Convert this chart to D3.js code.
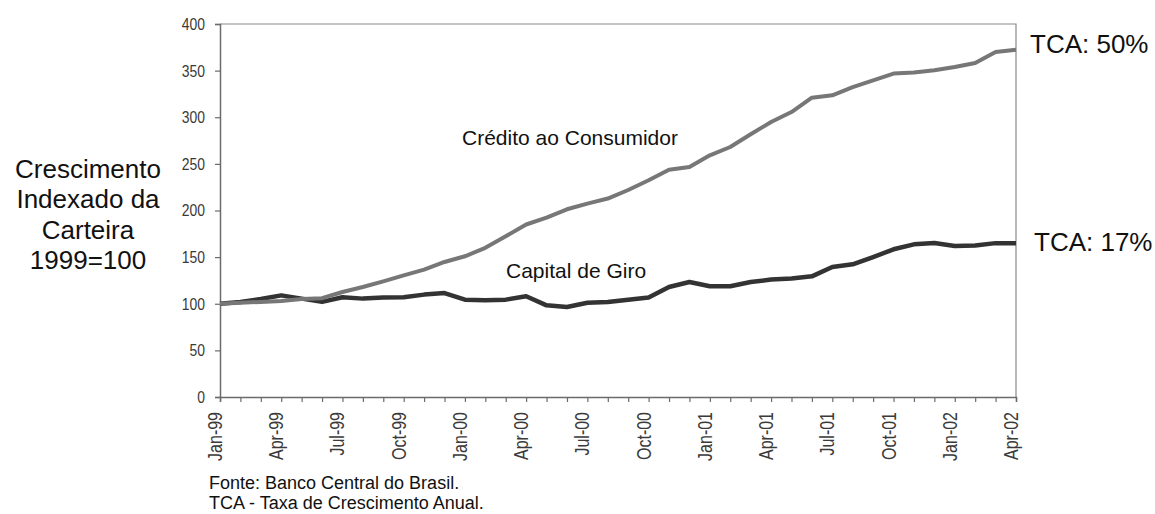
<!DOCTYPE html>
<html lang="pt">
<head>
<meta charset="UTF-8">
<title>Crescimento Indexado da Carteira</title>
<script src="https://d3js.org/d3.v7.min.js"></script>
<style>
  body { margin: 0; background: #fff; }
  svg { display: block; font-family: "Liberation Sans", Arial, sans-serif; }
  .tick-lbl { font-family: "Liberation Sans", Arial, sans-serif; fill: #3a3a3a; }
</style>
</head>
<body>
<svg id="chart" width="1155" height="514"></svg>
<script>
// months on the category axis (Jan-99 .. Apr-02)
const months = [
  "Jan-99","Feb-99","Mar-99","Apr-99","May-99","Jun-99","Jul-99","Aug-99","Sep-99","Oct-99","Nov-99","Dec-99",
  "Jan-00","Feb-00","Mar-00","Apr-00","May-00","Jun-00","Jul-00","Aug-00","Sep-00","Oct-00","Nov-00","Dec-00",
  "Jan-01","Feb-01","Mar-01","Apr-01","May-01","Jun-01","Jul-01","Aug-01","Sep-01","Oct-01","Nov-01","Dec-01",
  "Jan-02","Feb-02","Mar-02","Apr-02"
];
const tickLabels = ["Jan-99","Apr-99","Jul-99","Oct-99","Jan-00","Apr-00","Jul-00","Oct-00",
                    "Jan-01","Apr-01","Jul-01","Oct-01","Jan-02","Apr-02"];
const yTicks = [0, 50, 100, 150, 200, 250, 300, 350, 400];

// Crédito ao Consumidor
const credito = [100, 101, 102, 103, 105, 106, 112.6, 118, 124, 130.5, 136.6, 144.8, 150.9, 160, 172.3, 185, 192.4, 201.3, 207.4,
                 212.8, 222, 232.4, 243.8, 246.7, 259.2, 268.1, 281.7, 294.9, 305.6, 321, 323.5, 332.4, 339.6, 346.8, 347.9,
                 350.3, 353.9, 358.2, 370, 372.5];
// Capital de Giro
const capital = [100, 101.9, 105, 109, 105.5, 102, 107, 105.5, 106.6, 107, 109.8, 111.5, 104.4, 103.7, 104.4, 108, 98.3, 96.5, 101,
                 101.9, 104.4, 106.6, 118, 123.3, 118.7, 118.7, 123.3, 125.9, 127, 129.4, 139.4, 142.3, 150.1, 158.4, 163.7,
                 165.1, 162, 162.5, 165, 165];

const yLabelLines = ["Crescimento", "Indexado da", "Carteira", "1999=100"];
const notes = ["Fonte: Banco Central do Brasil.", "TCA - Taxa de Crescimento Anual."];

const plotL = 220, plotR = 1016, plotT = 24, plotB = 397;
const narrow = 0.82; // squeeze for the narrow tick font

const svg = d3.select("#chart");
const x = d3.scalePoint().domain(months).range([plotL, plotR]);
const y = d3.scaleLinear().domain([0, 400]).range([plotB, plotT]);

// plot frame (top + right)
svg.append("path")
  .attr("d", `M${plotL},${plotT}H${plotR}V${plotB}`)
  .attr("fill", "none").attr("stroke", "#8a8a8a").attr("stroke-width", 1.2);

// y axis
const yAxis = svg.append("g").attr("transform", `translate(${plotL},0)`)
  .call(d3.axisLeft(y).tickValues(yTicks).tickSize(5));
yAxis.select(".domain").attr("stroke", "#6b6b6b").attr("stroke-width", 1.5);
yAxis.selectAll(".tick line").attr("stroke", "#6b6b6b").attr("stroke-width", 1.2);
yAxis.selectAll(".tick text")
  .attr("class", "tick-lbl")
  .attr("font-size", 17)
  .attr("x", -15 / narrow)
  .attr("transform", `scale(${narrow},1)`);

// x axis
const xAxis = svg.append("g").attr("transform", `translate(0,${plotB})`)
  .call(d3.axisBottom(x).tickSize(5).tickFormat(""));
xAxis.select(".domain").attr("stroke", "#6b6b6b").attr("stroke-width", 1.5);
xAxis.selectAll(".tick line").attr("stroke", "#6b6b6b").attr("stroke-width", 1.2);

svg.append("g").selectAll("text")
  .data(tickLabels)
  .join("text")
  .attr("class", "tick-lbl")
  .attr("font-size", 19.5)
  .attr("text-anchor", "end")
  .attr("transform", d => `translate(${x(d) + 2},${plotB + 15}) rotate(-90) scale(${narrow},1)`)
  .text(d => d);

// lines
const line = d3.line().x((d, i) => x(months[i])).y(d => y(d));
svg.append("path").datum(capital)
  .attr("d", line).attr("fill", "none")
  .attr("stroke", "#333333").attr("stroke-width", 4.5).attr("stroke-linejoin", "round");
svg.append("path").datum(credito)
  .attr("d", line).attr("fill", "none")
  .attr("stroke", "#777777").attr("stroke-width", 4).attr("stroke-linejoin", "round");

// series labels
svg.append("text").attr("x", 462).attr("y", 145).attr("font-size", 21).attr("fill", "#111")
  .text("Crédito ao Consumidor");
svg.append("text").attr("x", 506).attr("y", 278).attr("font-size", 21).attr("fill", "#111")
  .text("Capital de Giro");

// growth rate labels
svg.append("text").attr("x", 1030).attr("y", 53).attr("font-size", 26).attr("fill", "#111")
  .text("TCA: 50%");
svg.append("text").attr("x", 1034).attr("y", 251).attr("font-size", 26).attr("fill", "#111")
  .text("TCA: 17%");

// y title
svg.append("g").selectAll("text")
  .data(yLabelLines)
  .join("text")
  .attr("x", 88)
  .attr("y", (d, i) => 178 + i * 30.3)
  .attr("text-anchor", "middle")
  .attr("font-size", 26)
  .attr("fill", "#111")
  .text(d => d);

// footnotes
svg.append("g").selectAll("text")
  .data(notes)
  .join("text")
  .attr("x", 209)
  .attr("y", (d, i) => 489 + i * 20)
  .attr("font-size", 18)
  .attr("fill", "#111")
  .text(d => d);
</script>
</body>
</html>
